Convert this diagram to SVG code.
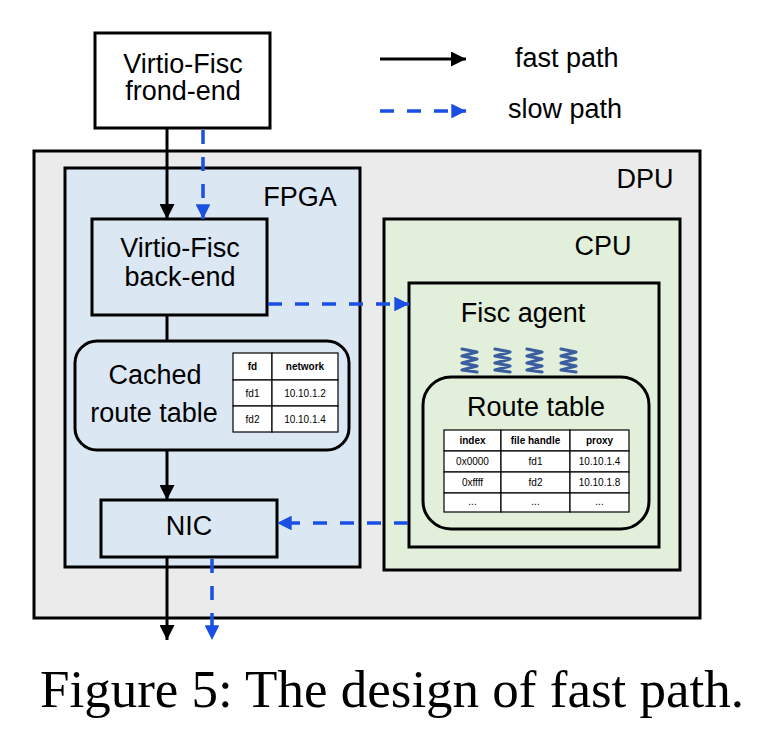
<svg xmlns="http://www.w3.org/2000/svg" width="765" height="732" viewBox="0 0 765 732">
<style>
.box{stroke:#000;stroke-width:3}
.t{font-family:"Liberation Sans",Arial,sans-serif;font-size:27px;fill:#000;text-anchor:middle}
.tl{font-family:"Liberation Sans",Arial,sans-serif;font-size:27px;fill:#000}
.cell{fill:#fff;stroke:#000;stroke-width:1.2}
.sm{font-family:"Liberation Sans",Arial,sans-serif;font-size:10px;fill:#000;text-anchor:middle}
.smb{font-family:"Liberation Sans",Arial,sans-serif;font-size:10px;font-weight:bold;fill:#000;text-anchor:middle}
.fast{stroke:#000;stroke-width:3;fill:none}
.slow{stroke:#1a4fe3;stroke-width:3.5;fill:none;stroke-dasharray:14 13}
.spring{stroke:#3a5ea0;stroke-width:3.2;fill:none;stroke-linecap:round;stroke-linejoin:round}
</style>
<defs>
<marker id="ab" viewBox="0 0 10 10" refX="10" refY="5" markerWidth="5" markerHeight="5" markerUnits="strokeWidth" orient="auto">
<path d="M0,0 L10,5 L0,10 Z" fill="#000"/>
</marker>
<marker id="au" viewBox="0 0 10 10" refX="10" refY="5" markerWidth="4.2" markerHeight="4.2" markerUnits="strokeWidth" orient="auto">
<path d="M0,0 L10,5 L0,10 Z" fill="#1a4fe3"/>
</marker>
</defs>
<rect width="765" height="732" fill="#fff"/>

<g id="dpu">
<rect class="box" x="34" y="151" width="666" height="467" fill="#ebebeb"/>
<text class="t" x="645" y="188" font-size="25">DPU</text>
</g>
<g id="fpga">
<rect class="box" x="65" y="168" width="295" height="399" fill="#dce7f4"/>
<text class="t" x="300" y="206" font-size="25">FPGA</text>
</g>
<g id="cpu">
<rect class="box" x="384" y="219" width="296" height="351" fill="#e2efda"/>
<text class="t" x="603" y="255" font-size="25">CPU</text>
</g>

<g id="frontend">
<rect class="box" x="95" y="33" width="175" height="95" fill="#fff"/>
<text class="t" x="183" y="73">Virtio-Fisc</text>
<text class="t" x="183" y="100">frond-end</text>
</g>

<g id="backend">
<rect class="box" x="92" y="219" width="175" height="96" fill="#dce7f4"/>
<text class="t" x="180" y="257">Virtio-Fisc</text>
<text class="t" x="180" y="286">back-end</text>
</g>

<g id="cached">
<rect class="box" x="75" y="341" width="274" height="109" rx="22" fill="#dce7f4"/>
<text class="t" x="155" y="384">Cached</text>
<text class="t" x="154" y="422">route table</text>
<rect class="cell" x="233" y="353" width="39" height="27"/>
<rect class="cell" x="272" y="353" width="66" height="27"/>
<rect class="cell" x="233" y="380" width="39" height="26"/>
<rect class="cell" x="272" y="380" width="66" height="26"/>
<rect class="cell" x="233" y="406" width="39" height="26"/>
<rect class="cell" x="272" y="406" width="66" height="26"/>
<text class="smb" x="252.5" y="370">fd</text>
<text class="smb" x="305" y="370">network</text>
<text class="sm" x="252.5" y="397">fd1</text>
<text class="sm" x="305" y="397">10.10.1.2</text>
<text class="sm" x="252.5" y="423">fd2</text>
<text class="sm" x="305" y="423">10.10.1.4</text>
</g>

<g id="nic">
<rect class="box" x="101" y="500" width="176" height="57" fill="#dce7f4"/>
<text class="t" x="189" y="535">NIC</text>
</g>

<g id="agent">
<rect class="box" x="409" y="283" width="250" height="264" fill="#e2efda"/>
<text class="t" x="523" y="322">Fisc agent</text>
<path class="spring" d="M462,349 L477,352 L462,356 L477,359 L462,363 L477,366 L462,370 L477,372"/>
<path class="spring" d="M495,349 L510,352 L495,356 L510,359 L495,363 L510,366 L495,370 L510,372"/>
<path class="spring" d="M527,349 L542,352 L527,356 L542,359 L527,363 L542,366 L527,370 L542,372"/>
<path class="spring" d="M561,349 L576,352 L561,356 L576,359 L561,363 L576,366 L561,370 L576,372"/>
</g>

<g id="routetable">
<rect class="box" x="423" y="377" width="226" height="152" rx="28" fill="#e2efda"/>
<text class="t" x="536" y="416">Route table</text>
<rect class="cell" x="444" y="430" width="57" height="21"/>
<rect class="cell" x="501" y="430" width="69" height="21"/>
<rect class="cell" x="570" y="430" width="59" height="21"/>
<rect class="cell" x="444" y="451" width="57" height="21"/>
<rect class="cell" x="501" y="451" width="69" height="21"/>
<rect class="cell" x="570" y="451" width="59" height="21"/>
<rect class="cell" x="444" y="472" width="57" height="21"/>
<rect class="cell" x="501" y="472" width="69" height="21"/>
<rect class="cell" x="570" y="472" width="59" height="21"/>
<rect class="cell" x="444" y="493" width="57" height="19"/>
<rect class="cell" x="501" y="493" width="69" height="19"/>
<rect class="cell" x="570" y="493" width="59" height="19"/>
<text class="smb" x="472.5" y="444">index</text>
<text class="smb" x="535.5" y="444">file handle</text>
<text class="smb" x="599.5" y="444">proxy</text>
<text class="sm" x="472.5" y="465">0x0000</text>
<text class="sm" x="535.5" y="465">fd1</text>
<text class="sm" x="599.5" y="465">10.10.1.4</text>
<text class="sm" x="472.5" y="486">0xffff</text>
<text class="sm" x="535.5" y="486">fd2</text>
<text class="sm" x="599.5" y="486">10.10.1.8</text>
<text class="sm" x="472.5" y="505">...</text>
<text class="sm" x="535.5" y="505">...</text>
<text class="sm" x="599.5" y="505">...</text>
</g>

<g id="connectors">
<line class="fast" x1="167" y1="128" x2="167" y2="219" marker-end="url(#ab)"/>
<line class="fast" x1="167" y1="315" x2="167" y2="341"/>
<line class="fast" x1="167" y1="450" x2="167" y2="500" marker-end="url(#ab)"/>
<line class="fast" x1="167" y1="557" x2="167" y2="640" marker-end="url(#ab)"/>
<line class="slow" x1="203" y1="130" x2="203" y2="219" marker-end="url(#au)"/>
<line class="slow" x1="268" y1="304" x2="409" y2="304" marker-end="url(#au)"/>
<line class="slow" x1="408" y1="523" x2="277" y2="523" marker-end="url(#au)"/>
<line class="slow" x1="212" y1="559" x2="212" y2="640" marker-end="url(#au)"/>
</g>

<g id="legend">
<line class="fast" x1="380" y1="59" x2="466" y2="59" marker-end="url(#ab)"/>
<line class="slow" x1="380" y1="111" x2="466" y2="111" marker-end="url(#au)"/>
<text class="tl" x="515" y="67">fast path</text>
<text class="tl" x="508" y="118">slow path</text>
</g>

<text x="392" y="707" text-anchor="middle" font-family="'Liberation Serif','Times New Roman',serif" font-size="53" fill="#000">Figure 5: The design of fast path.</text>
</svg>
